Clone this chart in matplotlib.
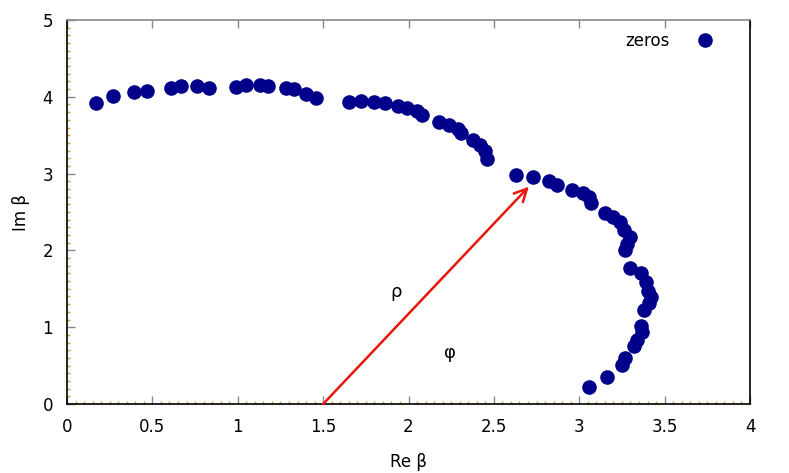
import matplotlib
matplotlib.use('Agg')
import matplotlib.pyplot as plt
from matplotlib.ticker import MultipleLocator

# zeros of the function in the complex beta plane
re_beta = [0.17, 0.27, 0.39, 0.47, 0.61, 0.67, 0.76, 0.83, 0.99, 1.05,
           1.13, 1.18, 1.28, 1.33, 1.40, 1.46, 1.65, 1.72, 1.80, 1.86,
           1.94, 1.99, 2.05, 2.08, 2.18, 2.24, 2.29, 2.31, 2.38, 2.42,
           2.45, 2.46, 2.63, 2.73, 2.82, 2.87, 2.96, 3.02, 3.06, 3.07,
           3.15, 3.20, 3.24, 3.26, 3.30, 3.28, 3.27, 3.30, 3.36, 3.39,
           3.40, 3.42, 3.41, 3.38, 3.36, 3.37, 3.34, 3.32, 3.27, 3.25,
           3.16, 3.06]
im_beta = [3.92, 4.01, 4.06, 4.07, 4.11, 4.14, 4.14, 4.11, 4.13, 4.15,
           4.15, 4.14, 4.11, 4.10, 4.04, 3.99, 3.93, 3.95, 3.93, 3.92,
           3.88, 3.85, 3.82, 3.76, 3.67, 3.63, 3.58, 3.53, 3.44, 3.37,
           3.29, 3.19, 2.98, 2.96, 2.90, 2.85, 2.79, 2.75, 2.70, 2.62,
           2.49, 2.43, 2.37, 2.27, 2.17, 2.08, 2.00, 1.77, 1.71, 1.59,
           1.47, 1.39, 1.31, 1.22, 1.02, 0.94, 0.83, 0.75, 0.60, 0.51,
           0.35, 0.22]

arrow_start = (1.5, 0.0)
arrow_end = (2.705, 2.83)

navy = '#00008b'

fig = plt.figure(figsize=(7.89, 4.73), dpi=100)
ax = fig.add_axes([67 / 789, 1 - 404 / 473, (750 - 67) / 789, (404 - 20) / 473])

ax.plot(re_beta, im_beta, 'o', color=navy, markersize=10.5, markeredgewidth=0,
        label='zeros', zorder=3)

ax.annotate('', xy=arrow_end, xytext=arrow_start,
            arrowprops=dict(arrowstyle='->,head_length=0.9,head_width=0.45',
                            color='#e8170c', lw=1.8, shrinkA=0, shrinkB=0))
ax.text(1.93, 1.46, 'ρ', fontsize=13, ha='center', va='center')
ax.text(2.24, 0.66, 'φ', fontsize=13, ha='center', va='center')

ax.set_xlim(0, 4)
ax.set_ylim(0, 5)
ax.xaxis.set_major_locator(MultipleLocator(0.5))
ax.yaxis.set_major_locator(MultipleLocator(1))
ax.xaxis.set_minor_locator(MultipleLocator(0.05))
ax.yaxis.set_minor_locator(MultipleLocator(0.1))
ax.xaxis.set_major_formatter(plt.FuncFormatter(lambda v, p: f'{v:g}'))

ax.tick_params(which='major', direction='in', length=6, width=1, color='#888888',
               top=True, right=False, labelsize=12, pad=10)
ax.tick_params(which='minor', direction='in', length=2, width=1, color='#d9a030',
               top=False, right=False)

for side in ['left', 'bottom', 'right']:
    ax.spines[side].set_color('black')
    ax.spines[side].set_linewidth(1.2)
ax.spines['top'].set_color('#888888')
ax.spines['top'].set_linewidth(1.2)

ax.set_xlabel('Re β', fontsize=12, labelpad=12)
ax.set_ylabel('Im β', fontsize=12, labelpad=9)

leg = ax.legend(loc='upper right', bbox_to_anchor=(0.97, 1.012), frameon=False,
                markerfirst=False, fontsize=12, handletextpad=1.6,
                borderaxespad=0.6, handlelength=1.0)

fig.savefig('out.png', dpi=100)
